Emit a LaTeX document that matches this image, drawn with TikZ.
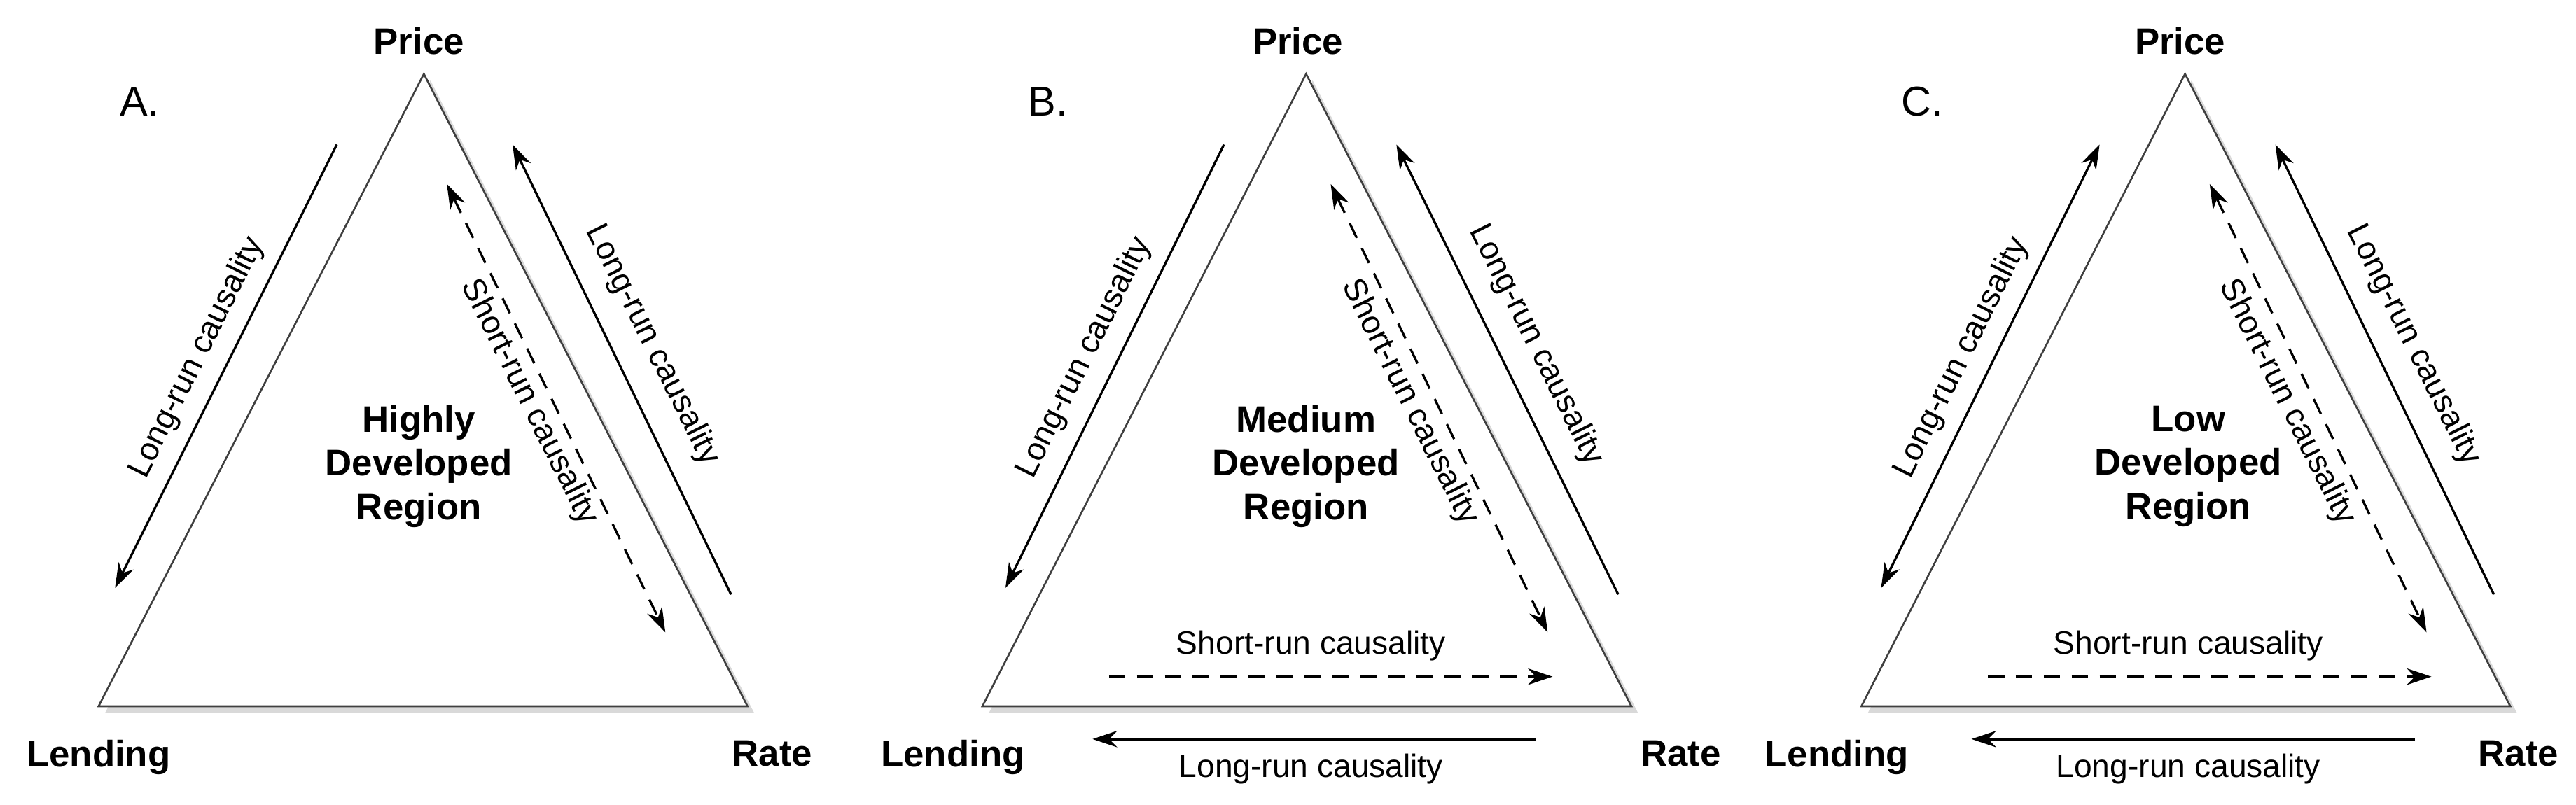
\documentclass[tikz,border=0pt]{standalone}
\usepackage{fontspec}
\setmainfont{Liberation Sans}
\usetikzlibrary{arrows.meta,shadows}
\begin{document}
\begin{tikzpicture}[x=0.05cm,y=-0.05cm,
  tri/.style={draw=black!75,line width=1.6pt,fill=white,drop shadow={shadow xshift=0.2cm,shadow yshift=-0.2cm,opacity=0.3}},
  corner/.style={font=\fontsize{32}{36}\selectfont\bfseries},
  center/.style={font=\fontsize{32}{38}\selectfont\bfseries,align=center},
  lab/.style={font=\fontsize{28}{32}\selectfont},
  let/.style={font=\fontsize{36}{40}\selectfont},
  sol/.style={line width=2pt,-{Stealth[length=0.75cm,width=0.5cm]}},
  solb/.style={line width=2pt,{Stealth[length=0.75cm,width=0.5cm]}-{Stealth[length=0.75cm,width=0.5cm]}},
  das/.style={line width=2pt,dash pattern=on 0.5cm off 0.35cm,{Stealth[length=0.75cm,width=0.5cm]}-{Stealth[length=0.75cm,width=0.5cm]}},
  dasr/.style={line width=2pt,dash pattern=on 0.5cm off 0.35cm,-{Stealth[length=0.75cm,width=0.5cm]}}]
\useasboundingbox (0,0) rectangle (1568,490);
% ---------- A ----------
\draw[tri] (258,45) -- (60,430) -- (455,430) -- cycle;
\node[let] (la) at (85,62) {A.};
\node[corner] (pa) at (255,25) {Price};
\node[corner] (ea) at (60,461) {Lending};
\node[corner] (ra) at (470,459) {Rate};
\node[center] (ca) at (255,284) {Highly\\Developed\\Region};
\coordinate (a1) at (205,88); \coordinate (a2) at (70,358);
\draw[sol] (a1) -- (a2);
\node[lab,rotate=63.5] at (120,218) {Long-run causality};
\coordinate (a3) at (272,112); \coordinate (a4) at (405,385);
\draw[das] (a3) -- (a4);
\node[lab,rotate=-63.5] at (322,245) {Short-run causality};
\coordinate (a5) at (445,362); \coordinate (a6) at (312,88);
\draw[sol] (a5) -- (a6);
\node[lab,rotate=-63.5] at (397,210) {Long-run causality};
% ---------- B ----------
\draw[tri] (795,45) -- (598,430) -- (993,430) -- cycle;
\node[let] (lb) at (638,62) {B.};
\node[corner] (pb) at (790,25) {Price};
\node[corner] (eb) at (580,461) {Lending};
\node[corner] (rb) at (1023,459) {Rate};
\node[center] (cb) at (795,284) {Medium\\Developed\\Region};
\coordinate (b1) at (745,88); \coordinate (b2) at (612,358);
\draw[sol] (b1) -- (b2);
\node[lab,rotate=63.5] at (660,218) {Long-run causality};
\coordinate (b3) at (810,112); \coordinate (b4) at (942,385);
\draw[das] (b3) -- (b4);
\node[lab,rotate=-63.5] at (858,245) {Short-run causality};
\coordinate (b5) at (985,362); \coordinate (b6) at (850,88);
\draw[sol] (b5) -- (b6);
\node[lab,rotate=-63.5] at (935,210) {Long-run causality};
\coordinate (b7) at (675,412); \coordinate (b8) at (945,412);
\draw[dasr] (b7) -- (b8);
\node[lab] at (798,393) {Short-run causality};
\coordinate (b9) at (935,450); \coordinate (b10) at (665,450);
\draw[sol] (b9) -- (b10);
\node[lab] at (798,468) {Long-run causality};
% ---------- C ----------
\draw[tri] (1330,45) -- (1133,430) -- (1528,430) -- cycle;
\node[let] (lc) at (1170,62) {C.};
\node[corner] (pc) at (1327,25) {Price};
\node[corner] (ec) at (1118,461) {Lending};
\node[corner] (rc) at (1533,459) {Rate};
\node[center] (cc) at (1332,284) {Low\\Developed\\Region};
\coordinate (c1) at (1278,88); \coordinate (c2) at (1145,358);
\draw[solb] (c1) -- (c2);
\node[lab,rotate=63.5] at (1194,218) {Long-run causality};
\coordinate (c3) at (1345,112); \coordinate (c4) at (1477,385);
\draw[das] (c3) -- (c4);
\node[lab,rotate=-63.5] at (1392,245) {Short-run causality};
\coordinate (c5) at (1518,362); \coordinate (c6) at (1385,88);
\draw[sol] (c5) -- (c6);
\node[lab,rotate=-63.5] at (1469,210) {Long-run causality};
\coordinate (c7) at (1210,412); \coordinate (c8) at (1480,412);
\draw[dasr] (c7) -- (c8);
\node[lab] at (1332,393) {Short-run causality};
\coordinate (c9) at (1470,450); \coordinate (c10) at (1200,450);
\draw[sol] (c9) -- (c10);
\node[lab] at (1332,468) {Long-run causality};
\end{tikzpicture}
\end{document}
